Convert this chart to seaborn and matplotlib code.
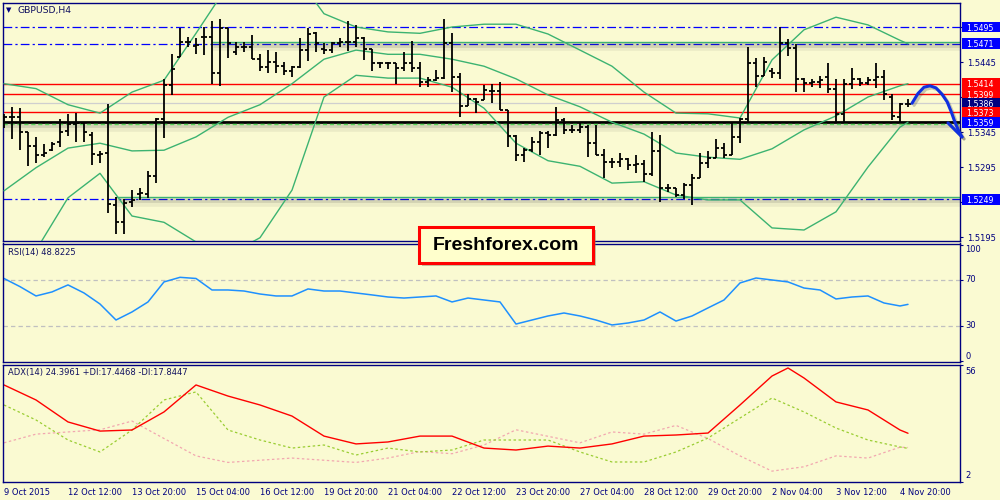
import matplotlib
matplotlib.use('Agg')
import matplotlib.pyplot as plt
import matplotlib.patheffects as pe
from matplotlib.patches import Rectangle
from matplotlib.transforms import blended_transform_factory, offset_copy
import numpy as np
import pandas as pd
import seaborn as sns

sns.set_theme(style='white')
plt.rcParams['font.family'] = ['DejaVu Sans']

BG = '#FAFAD2'
NAVY = '#000080'
BAND = '#3CB371'

# ---------------- data ----------------
opens = [1.5366, 1.5366, 1.5366, 1.5345, 1.5325, 1.5312, 1.5319, 1.5331, 1.5346, 1.5356,
         1.5358, 1.5341, 1.5312, 1.5315, 1.5241, 1.5216, 1.5245, 1.5256, 1.5256, 1.5282,
         1.5364, 1.5412, 1.5452, 1.5474, 1.5468, 1.5481, 1.5481, 1.5429, 1.5494, 1.5459,
         1.5466, 1.5466, 1.5449, 1.5438, 1.5445, 1.5439, 1.5432, 1.5438, 1.5462, 1.5486,
         1.5464, 1.5462, 1.5472, 1.5474, 1.5474, 1.5479, 1.5464, 1.5444, 1.5444, 1.5444,
         1.5436, 1.5444, 1.5436, 1.5416, 1.5419, 1.5422, 1.5472, 1.5424, 1.5382, 1.5392,
         1.5391, 1.5404, 1.5404, 1.5376, 1.5339, 1.5312, 1.5319, 1.5331, 1.5344, 1.5341,
         1.5362, 1.5348, 1.5348, 1.5352, 1.5329, 1.5312, 1.5302, 1.5302, 1.5306, 1.5298,
         1.5299, 1.5285, 1.5318, 1.5265, 1.5265, 1.5255, 1.5269, 1.5279, 1.5301, 1.5308,
         1.5322, 1.5312, 1.5338, 1.5364, 1.5444, 1.5425, 1.5432, 1.5429, 1.5472, 1.5465,
         1.5421, 1.5415, 1.5416, 1.5424, 1.5406, 1.5371, 1.5414, 1.5421, 1.5415, 1.5419,
         1.5424, 1.5395, 1.5366, 1.5385]
highs = [1.5371, 1.5381, 1.5380, 1.5345, 1.5338, 1.5328, 1.5331, 1.5364, 1.5371, 1.5372,
         1.5359, 1.5345, 1.5318, 1.5385, 1.5252, 1.5249, 1.5262, 1.5265, 1.5290, 1.5365,
         1.5421, 1.5456, 1.5494, 1.5481, 1.5479, 1.5495, 1.5504, 1.5506, 1.5494, 1.5474,
         1.5474, 1.5484, 1.5456, 1.5462, 1.5459, 1.5445, 1.5439, 1.5479, 1.5494, 1.5488,
         1.5472, 1.5474, 1.5479, 1.5504, 1.5498, 1.5481, 1.5464, 1.5445, 1.5445, 1.5444,
         1.5459, 1.5475, 1.5445, 1.5424, 1.5434, 1.5506, 1.5486, 1.5429, 1.5399, 1.5394,
         1.5412, 1.5414, 1.5416, 1.5376, 1.5341, 1.5322, 1.5338, 1.5346, 1.5346, 1.5381,
         1.5365, 1.5355, 1.5358, 1.5355, 1.5355, 1.5321, 1.5308, 1.5315, 1.5308, 1.5312,
         1.5305, 1.5345, 1.5341, 1.5271, 1.5265, 1.5272, 1.5285, 1.5315, 1.5318, 1.5335,
         1.5329, 1.5359, 1.5365, 1.5466, 1.5451, 1.5452, 1.5436, 1.5495, 1.5478, 1.5471,
         1.5422, 1.5421, 1.5425, 1.5444, 1.5421, 1.5421, 1.5436, 1.5422, 1.5424, 1.5444,
         1.5434, 1.5399, 1.5386, 1.5392]
lows = [1.5351, 1.5335, 1.5319, 1.5296, 1.5301, 1.5309, 1.5318, 1.5324, 1.5339, 1.5331,
        1.5331, 1.5298, 1.5301, 1.5229, 1.5199, 1.5199, 1.5238, 1.5248, 1.5251, 1.5272,
        1.5336, 1.5398, 1.5452, 1.5466, 1.5456, 1.5455, 1.5414, 1.5411, 1.5451, 1.5455,
        1.5459, 1.5449, 1.5432, 1.5429, 1.5429, 1.5426, 1.5424, 1.5436, 1.5446, 1.5459,
        1.5456, 1.5458, 1.5466, 1.5461, 1.5466, 1.5448, 1.5432, 1.5436, 1.5435, 1.5414,
        1.5432, 1.5431, 1.5409, 1.5409, 1.5418, 1.5421, 1.5402, 1.5366, 1.5382, 1.5372,
        1.5391, 1.5386, 1.5376, 1.5324, 1.5304, 1.5302, 1.5316, 1.5312, 1.5322, 1.5339,
        1.5342, 1.5344, 1.5344, 1.5309, 1.5312, 1.5279, 1.5294, 1.5295, 1.5291, 1.5286,
        1.5274, 1.5282, 1.5245, 1.5259, 1.5252, 1.5249, 1.5241, 1.5279, 1.5294, 1.5308,
        1.5308, 1.5312, 1.5329, 1.5359, 1.5409, 1.5425, 1.5422, 1.5421, 1.5454, 1.5402,
        1.5402, 1.5409, 1.5408, 1.5401, 1.5358, 1.5358, 1.5406, 1.5411, 1.5412, 1.5408,
        1.5391, 1.5362, 1.5359, 1.5381]
closes = [1.5366, 1.5366, 1.5345, 1.5325, 1.5312, 1.5315, 1.5328, 1.5345, 1.5356, 1.5358,
          1.5345, 1.5314, 1.5314, 1.5242, 1.5216, 1.5244, 1.5248, 1.5258, 1.5282, 1.5364,
          1.5412, 1.5435, 1.5474, 1.5474, 1.5469, 1.5481, 1.5429, 1.5494, 1.5472, 1.5466,
          1.5466, 1.5449, 1.5438, 1.5445, 1.5439, 1.5432, 1.5438, 1.5462, 1.5485, 1.5472,
          1.5462, 1.5472, 1.5474, 1.5474, 1.5479, 1.5464, 1.5444, 1.5444, 1.5444, 1.5436,
          1.5444, 1.5436, 1.5416, 1.5419, 1.5422, 1.5472, 1.5424, 1.5382, 1.5392, 1.5388,
          1.5405, 1.5404, 1.5376, 1.5339, 1.5312, 1.5319, 1.5331, 1.5344, 1.5341, 1.5362,
          1.5348, 1.5348, 1.5352, 1.5329, 1.5312, 1.5302, 1.5302, 1.5306, 1.5298, 1.5299,
          1.5285, 1.5318, 1.5265, 1.5265, 1.5255, 1.5269, 1.5279, 1.5301, 1.5308, 1.5322,
          1.5312, 1.5338, 1.5364, 1.5444, 1.5425, 1.5445, 1.5429, 1.5472, 1.5465, 1.5421,
          1.5415, 1.5416, 1.5419, 1.5406, 1.5371, 1.5414, 1.5421, 1.5415, 1.5419, 1.5424,
          1.5399, 1.5368, 1.5385, 1.5385]

band_idx = list(range(0, 113, 4)) + [113]
bb_upper = [1.5414, 1.5407, 1.5384, 1.5372, 1.5402, 1.5419, 1.5486, 1.5555, 1.5584, 1.5576,
            1.5514, 1.5495, 1.5488, 1.5486, 1.5495, 1.5499, 1.5499, 1.5485, 1.5462, 1.5439,
            1.5402, 1.5372, 1.5371, 1.5365, 1.5448, 1.5491, 1.5509, 1.5498, 1.5476, 1.5471]
bb_middle = [1.5261, 1.5294, 1.5322, 1.5329, 1.5318, 1.5319, 1.5338, 1.5366, 1.5384, 1.5414,
             1.5449, 1.5462, 1.5456, 1.5456, 1.5449, 1.5439, 1.5421, 1.5398, 1.5381, 1.5359,
             1.5342, 1.5315, 1.5309, 1.5306, 1.5321, 1.5348, 1.5368, 1.5395, 1.5411, 1.5414]
bb_lower = [1.5148, 1.5176, 1.5251, 1.5286, 1.5225, 1.5216, 1.5188, 1.5169, 1.5194, 1.5262,
            1.5395, 1.5426, 1.5422, 1.5422, 1.5409, 1.5379, 1.5329, 1.5304, 1.5296, 1.5272,
            1.5274, 1.5255, 1.5248, 1.5248, 1.5208, 1.5205, 1.5231, 1.5295, 1.5352, 1.5359]

rsi_idx = list(range(0, 113, 2)) + [113]
rsi_vals = [71.3, 64.2, 56.1, 59.6, 65.7, 58.7, 49.1, 35.2, 42.2, 50.9,
            68.3, 72.3, 71.3, 61.3, 61.3, 60.4, 57.8, 56.1, 56.1, 62.2,
            60.4, 60.4, 58.7, 57.0, 55.2, 54.3, 55.2, 56.1, 50.9, 54.3,
            52.6, 50.9, 31.7, 35.2, 38.7, 41.3, 38.7, 35.2, 30.9, 32.6,
            35.2, 42.2, 34.3, 38.7, 45.7, 52.6, 67.4, 71.7, 70.0, 68.3,
            63.0, 61.3, 53.5, 55.2, 56.1, 50.0, 47.4, 48.8]

adx_idx = [0, 4, 8, 12, 16, 20, 24, 28, 32, 36, 40, 44, 48, 52, 56, 60, 64, 68, 72, 76,
           80, 84, 88, 92, 96, 98, 100, 104, 108, 112, 113]
adx_vals = [46.6, 39.7, 29.6, 25.4, 25.9, 34.2, 46.6, 41.5, 37.4, 32.3, 23.1, 19.5, 20.4,
            23.1, 23.1, 17.6, 16.7, 18.5, 17.6, 19.5, 23.1, 23.6, 24.5, 37.4, 50.7, 54.4,
            49.8, 38.8, 35.1, 25.9, 24.4]
di_idx = list(range(0, 113, 4)) + [113]
plus_di = [37.4, 30.5, 21.3, 15.8, 25.9, 39.7, 43.4, 25.9, 21.3, 17.6, 19.0, 14.4, 17.6, 15.8,
           16.7, 21.3, 21.3, 21.3, 15.8, 11.2, 11.2, 15.8, 22.2, 31.4, 40.6, 34.2, 26.8, 21.3,
           18.1, 17.45]
minus_di = [20, 24, 25, 26, 30, 22, 14, 11, 12, 13, 12, 11, 13, 16, 15, 19, 26, 23, 20, 25,
            24, 28, 22, 14, 7, 9, 14, 13, 18, 17.84]

time_tick_idx = list(range(0, 113, 8))
time_labels = ['9 Oct 2015', '12 Oct 12:00', '13 Oct 20:00', '15 Oct 04:00', '16 Oct 12:00',
               '19 Oct 20:00', '21 Oct 04:00', '22 Oct 12:00', '23 Oct 20:00', '27 Oct 04:00',
               '28 Oct 12:00', '29 Oct 20:00', '2 Nov 04:00', '3 Nov 12:00', '4 Nov 20:00']

# tick marks at every level; the labels hidden under price tags are left blank
price_ticks = [1.5195, 1.5245, 1.5295, 1.5345, 1.5395, 1.5445, 1.5495]
price_tick_labels = ['1.5195', '', '1.5295', '1.5345', '', '1.5445', '']

red_levels = [1.5414, 1.5399, 1.5373]
blue_levels = [1.5495, 1.5471, 1.5249]
green_levels = [1.5474, 1.5252]
green_start = [26, 14]
support_level = 1.5359
bid_price = 1.5386

tag_prices = [1.5495, 1.5471, 1.5414, 1.5399, 1.5386, 1.5373, 1.5359, 1.5249]
tag_texts = ['1.5495', '1.5471', '1.5414', '1.5399', '1.5386', '1.5373', '1.5359', '1.5249']
tag_colors = ['#0000FF', '#0000FF', '#FF0000', '#FF0000', '#000080', '#FF0000', '#0000FF', '#0000FF']

arrow_x = [113.5, 114.25, 115.0, 115.75, 116.5, 117.25, 117.9, 118.4, 118.9, 119.4, 119.75]
arrow_y = [1.5386, 1.5400, 1.5409, 1.5411, 1.5408, 1.5399, 1.5388, 1.5374, 1.5358, 1.5345, 1.5338]
head_x = [118.0, 119.75]
head_y = [1.5358, 1.5338]

rsi_title = 'RSI(14) 48.8225'
adx_title = 'ADX(14) 24.3961 +DI:17.4468 -DI:17.8447'
XMAX = 119.5

# ---------------- figure ----------------
fig = plt.figure(figsize=(10, 5), dpi=100, facecolor=BG)
ax = fig.add_axes([0.003, 0.518, 0.957, 0.476])
ax_rsi = fig.add_axes([0.003, 0.276, 0.957, 0.237])
ax_adx = fig.add_axes([0.003, 0.036, 0.957, 0.235])
for a in (ax, ax_rsi, ax_adx):
    a.set_facecolor(BG)
    for s in a.spines.values():
        s.set_color(NAVY)
        s.set_linewidth(1.0)
    a.grid(False)

shadow = [pe.SimpleLineShadow(offset=(0.6, -2.2), shadow_color='#404040', alpha=0.14, linewidth=3.5),
          pe.SimpleLineShadow(offset=(0.6, -4.0), shadow_color='#404040', alpha=0.08, linewidth=5.5),
          pe.Normal()]

# levels
for lv in blue_levels:
    ax.axhline(lv, color='#0000FF', lw=0.9, ls=(0, (7, 2.5, 1.8, 2.5)), zorder=2)
for lv in red_levels:
    ax.axhline(lv, color='#FF0000', lw=1.0, zorder=2)
ax.axhline(bid_price, color='#CFCFCF', lw=0.9, zorder=1.9)
for lv, st in zip(green_levels, green_start):
    ax.hlines(lv, st, XMAX, color=BAND, lw=1.0, zorder=2.1, path_effects=shadow)
ax.axhline(support_level, color='black', lw=2.0, zorder=2.5, path_effects=shadow)
ax.plot([-0.125, XMAX], [support_level, support_level], color='#5CD65C', lw=1.0,
        ls=(0, (3, 2)), zorder=2.6,
        transform=offset_copy(ax.transData, fig=fig, x=0, y=-1.5, units='dots'))

# bollinger bands
bands = pd.DataFrame({'idx': band_idx, 'upper': bb_upper, 'middle': bb_middle, 'lower': bb_lower})
for col in ['upper', 'middle', 'lower']:
    sns.lineplot(data=bands, x='idx', y=col, ax=ax, color=BAND, lw=1.0, zorder=3, estimator=None)

# OHLC bars
idx = np.arange(len(opens))
ax.vlines(idx, lows, highs, color='black', lw=1.3, zorder=4)
ax.hlines(opens, idx - 0.4, idx, color='black', lw=1.3, zorder=4)
ax.hlines(closes, idx, idx + 0.4, color='black', lw=1.3, zorder=4)

# hand drawn arrow
arrow_fx = [pe.SimpleLineShadow(offset=(1.5, -1.5), shadow_color='#303030', alpha=0.25), pe.Normal()]
ax.plot(arrow_x, arrow_y, color='#1030E0', lw=2.2, zorder=6, clip_on=False,
        solid_capstyle='round', path_effects=arrow_fx)
ax.plot(head_x, head_y, color='#1030E0', lw=2.2, zorder=6, clip_on=False,
        solid_capstyle='round', path_effects=arrow_fx)

ax.set_xlim(-0.125, XMAX)
ax.set_ylim(1.51893, 1.55293)
ax.set_xlabel('')
ax.set_ylabel('')
ax.set_xticks([])
ax.yaxis.tick_right()
ax.set_yticks(price_ticks)
ax.set_yticklabels(price_tick_labels)
ax.tick_params(axis='y', direction='out', length=2.5, width=0.8, color=NAVY,
               labelcolor=NAVY, labelsize=6, pad=2.5)

# price tags
trans_tag = blended_transform_factory(fig.transFigure, ax.transData)
for p, t, c in zip(tag_prices, tag_texts, tag_colors):
    ax.add_patch(Rectangle((0.9615, p - 0.00077), 0.0385, 0.00154, transform=trans_tag,
                           fc=c, ec='none', clip_on=False, zorder=10))
    ax.text(0.9665, p, t, transform=trans_tag, color='white', fontsize=5.7,
            va='center_baseline', ha='left', clip_on=False, zorder=11)
ax.set_ylim(1.51893, 1.55293)

# ---------------- RSI ----------------
sns.lineplot(x=rsi_idx, y=rsi_vals, ax=ax_rsi, color='#1E90FF', lw=1.1, estimator=None)
for lv in [70, 30]:
    ax_rsi.axhline(lv, color='#C0C0C0', lw=0.9, ls=(0, (3.5, 2.5)), zorder=1)
ax_rsi.set_xlim(-0.125, XMAX)
ax_rsi.set_ylim(-1.3, 101.7)
ax_rsi.set_xticks([])
ax_rsi.yaxis.tick_right()
ax_rsi.set_yticks([0, 30, 70, 100])
ax_rsi.set_yticklabels([])
ax_rsi.tick_params(axis='y', direction='out', length=2.5, width=0.8, color=NAVY)
ax_rsi.set_xlabel('')
ax_rsi.set_ylabel('')
tr_r = blended_transform_factory(ax_rsi.transAxes, ax_rsi.transData)
for v, lab, va in [(100, '100', 'top'), (70, '70', 'center'), (30, '30', 'center'), (0, '0', 'bottom')]:
    ax_rsi.text(1.0055, v, lab, transform=tr_r, fontsize=6, color=NAVY, va=va, ha='left', clip_on=False)

# ---------------- ADX ----------------
sns.lineplot(x=di_idx, y=minus_di, ax=ax_adx, color='#F2A7B0', lw=0.9, ls=(0, (2, 2)), estimator=None)
sns.lineplot(x=di_idx, y=plus_di, ax=ax_adx, color='#9ACD32', lw=0.9, ls=(0, (2, 2)), estimator=None)
sns.lineplot(x=adx_idx, y=adx_vals, ax=ax_adx, color='#FF0000', lw=1.0, estimator=None)
ax_adx.set_xlim(-0.125, XMAX)
ax_adx.set_ylim(2, 56)
ax_adx.yaxis.tick_right()
ax_adx.set_yticks([2, 56])
ax_adx.set_yticklabels([])
ax_adx.tick_params(axis='y', direction='out', length=2.5, width=0.8, color=NAVY)
ax_adx.set_xlabel('')
ax_adx.set_ylabel('')
tr_a = blended_transform_factory(ax_adx.transAxes, ax_adx.transData)
ax_adx.text(1.0055, 55.0, '56', transform=tr_a, fontsize=6, color=NAVY, va='top', ha='left', clip_on=False)
ax_adx.text(1.0055, 3.0, '2', transform=tr_a, fontsize=6, color=NAVY, va='bottom', ha='left', clip_on=False)

ax_adx.set_xticks(time_tick_idx)
ax_adx.set_xticklabels(time_labels)
ax_adx.tick_params(axis='x', direction='out', length=3, width=0.8, color=NAVY,
                   labelcolor=NAVY, labelsize=6, pad=1.5)
for lbl in ax_adx.get_xticklabels():
    lbl.set_ha('left')

# ---------------- titles ----------------
fig.text(0.006, 1 - 10.5 / 500, '\u25BC', fontsize=5, color=NAVY, va='center', ha='left')
fig.text(0.018, 1 - 10.5 / 500, 'GBPUSD,H4', fontsize=6.7, color='#101060', va='center', ha='left')
fig.text(0.008, 1 - 252.5 / 500, rsi_title, fontsize=6, color='#101060', va='center', ha='left')
fig.text(0.008, 1 - 372.5 / 500, adx_title, fontsize=6, color='#101060', va='center', ha='left')

# ---------------- logo ----------------
fig.add_artist(Rectangle((0.422, 0.468), 0.174, 0.072, transform=fig.transFigure,
                         fc='#808060', ec='none', alpha=0.45, zorder=20))
fig.add_artist(Rectangle((0.419, 0.474), 0.174, 0.072, transform=fig.transFigure,
                         fc='#FFFFCC', ec='#FF0000', lw=2.2, zorder=21))
fig.text(0.506, 0.510, 'Freshforex.com', fontsize=14, fontweight='bold',
         family=['Liberation Sans', 'DejaVu Sans'], color='black',
         ha='center', va='center', zorder=22)

fig.savefig('out.png', dpi=100, facecolor=BG)
